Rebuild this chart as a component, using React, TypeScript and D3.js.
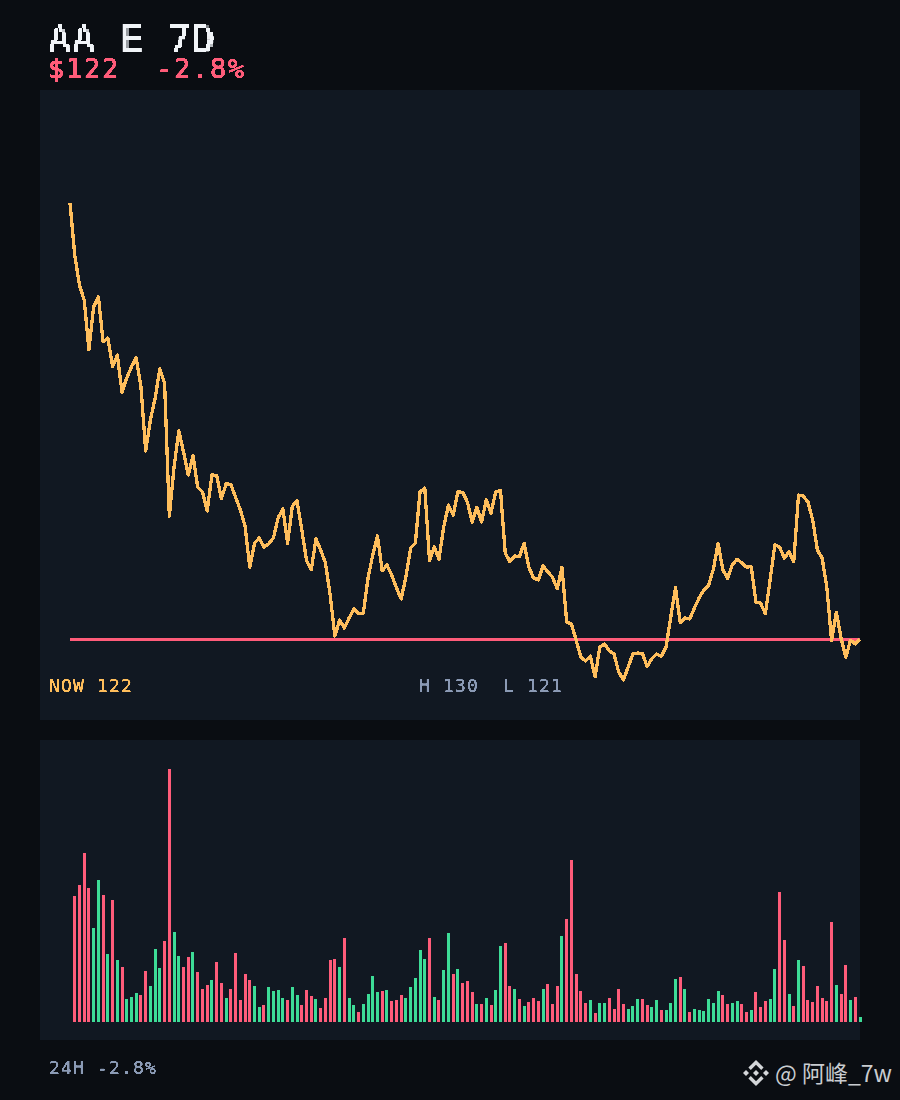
import React from "react";
import * as d3 from "d3";

const closes = [
  130.00,129.02,128.45,128.17,127.23,128.04,128.23,127.38,127.45,126.91,127.13,126.43,126.70,126.91,127.08,126.53,125.32,125.91,126.32,126.87,126.60,124.09,125.02,125.70,125.30,124.87,125.23,124.64,124.55,124.19,124.87,124.86,124.42,124.70,124.69,124.45,124.21,123.91,123.13,123.58,123.68,123.51,123.57,123.68,124.06,124.23,123.58,124.28,124.38,123.83,123.26,123.08,123.66,123.45,123.21,122.60,121.83,122.13,121.98,122.17,122.34,122.25,122.26,122.92,123.36,123.72,123.06,123.17,122.98,122.74,122.53,122.94,123.49,123.58,124.55,124.62,123.26,123.51,123.28,123.89,124.30,124.11,124.55,124.54,124.36,123.98,124.26,123.98,124.40,124.15,124.55,124.58,123.40,123.23,123.34,123.33,123.58,123.13,122.92,122.89,123.15,123.04,122.94,122.72,123.13,122.09,122.06,121.75,121.43,121.36,121.45,121.06,121.62,121.68,121.55,121.49,121.15,121.00,121.25,121.49,121.51,121.50,121.26,121.40,121.49,121.45,121.62,122.19,122.74,122.08,122.17,122.15,122.36,122.55,122.70,122.79,123.09,123.58,123.08,122.92,123.17,123.28,123.21,123.13,123.14,122.47,122.45,122.25,122.89,123.55,123.51,123.30,123.42,123.23,124.49,124.47,124.36,124.02,123.45,123.30,122.74,121.74,122.28,121.79,121.43,121.75,121.68,121.77,
];

const volumes = [
  126,137,169,134,94,142,127,68,122,62,55,23,25,29,27,51,36,73,54,81,253,90,66,55,65,70,50,33,37,42,60,39,24,33,69,22,48,42,36,15,
  17,35,31,32,24,22,35,27,17,32,26,23,14,24,62,63,55,84,24,17,10,18,28,46,30,31,32,21,22,27,24,35,44,72,63,84,25,22,52,89,48,53,
  39,41,30,18,18,24,17,32,76,79,36,33,23,16,20,24,21,33,38,18,36,86,103,162,48,31,19,22,9,19,19,24,13,33,18,13,16,23,23,17,15,22,
  12,12,19,43,45,33,10,13,12,11,23,19,31,27,18,19,21,18,10,12,30,15,21,23,53,130,82,28,16,62,56,22,20,36,24,21,100,37,28,57,22,25,5,
];

const titleText = "AA E 7D";
const priceText = "$122";
const changeText = "-2.8%";
const nowText = "NOW 122";
const highText = "H 130";
const lowText = "L 121";
const footerText = "24H -2.8%";
const watermarkText = "@ 阿峰_7w";

const BG = "#0a0d12";
const PANEL = "#111822";
const AMBER = "#ffbe5c";
const RED = "#ff5c7a";
const GREEN = "#3ddc97";
const WHITE = "#f1f4f8";
const GRAY = "#8b9ab5";
const MONO = "'DejaVu Sans Mono', monospace";

function Pixel({ id, block, ox, oy, sample, radius }: { id: string; block: number; ox: number; oy: number; sample: number; radius: number }) {
  return (
    <filter id={id} filterUnits="userSpaceOnUse" primitiveUnits="userSpaceOnUse" x={ox} y={oy} width={800} height={1000} colorInterpolationFilters="sRGB">
      <feFlood x={ox + 1} y={oy + 1} width={sample} height={sample} floodColor="#000" floodOpacity="1" />
      <feComposite x={ox} y={oy} width={block} height={block} />
      <feTile result="grid" />
      <feComposite in="SourceGraphic" in2="grid" operator="in" />
      <feMorphology operator="dilate" radius={radius} />
      <feComponentTransfer>
        <feFuncA type="linear" slope="6" intercept="-2.2" />
      </feComponentTransfer>
    </filter>
  );
}

const chevron = "M0 -13L7.6 -5.4L5.2 -3L0 -8.2L-5.2 -3L-7.6 -5.4Z";
const sideDiamonds = [-10, 10];
const diamond = (cx: number, r: number) => `M${cx} ${-r}L${cx + r} 0L${cx} ${r}L${cx - r} 0Z`;

export default function App() {
  const x = d3.scaleLinear().domain([0, closes.length - 1]).range([70, 860]);
  const y = d3.scaleLinear().domain([121, 130]).range([680, 203]);
  const vol = d3.scaleLinear().domain([0, d3.max(volumes) as number]).range([1022, 769]);
  const line = d3.line<number>().x((_, i) => x(i)).y((d) => y(d));
  const last = closes[closes.length - 1];

  const small = { fontSize: 18, letterSpacing: 1.16, strokeWidth: 0.2, filter: "url(#px2)" };
  const mid = { fontSize: 27, letterSpacing: 1.74, strokeWidth: 0.7, fill: RED, stroke: RED, filter: "url(#px2)" };

  return (
    <svg width={900} height={1100} viewBox="0 0 900 1100" style={{ position: "absolute", left: 0, top: 0, display: "block" }}>
      <defs>
        <Pixel id="px4" block={4} ox={2} oy={0} sample={2} radius={1} />
        <filter id="px2" filterUnits="userSpaceOnUse" x={0} y={0} width={900} height={1100}>
          <feComponentTransfer>
            <feFuncA type="linear" slope="5" intercept="-1.6" />
          </feComponentTransfer>
        </filter>
      </defs>
      <rect width={900} height={1100} fill={BG} />
      <rect x={40} y={90} width={820} height={630} fill={PANEL} />
      <rect x={40} y={740} width={820} height={300} fill={PANEL} />

      <g fontFamily={MONO}>
        <text x={48} y={52} fontSize={38} letterSpacing={1.12} fill={WHITE} filter="url(#px4)">{titleText}</text>
        <text x={48} y={78} {...mid}>{priceText}</text>
        <text x={156} y={78} {...mid}>{changeText}</text>
        <text x={49} y={692} fill={AMBER} stroke={AMBER} {...small}>{nowText}</text>
        <text x={419} y={692} fill={GRAY} stroke={GRAY} {...small}>{highText}</text>
        <text x={503} y={692} fill={GRAY} stroke={GRAY} {...small}>{lowText}</text>
        <text x={49} y={1074} fill={GRAY} stroke={GRAY} {...small}>{footerText}</text>
      </g>

      <line x1={x(0)} x2={x(closes.length - 1)} y1={y(last)} y2={y(last)} stroke={RED} strokeWidth={3} shapeRendering="crispEdges" />
      <path d={line(closes) ?? ""} fill="none" stroke={AMBER} strokeWidth={3.3} strokeLinejoin="round" shapeRendering="crispEdges" />

      {volumes.map((v, i) => (
        <rect
          key={i}
          x={x(i + 1) - 1.5}
          y={vol(v)}
          width={3}
          height={vol(0) - vol(v)}
          fill={closes[i + 1] >= closes[i] ? GREEN : RED}
          shapeRendering="crispEdges"
        />
      ))}

      <g fill="#d4d6d9" transform="translate(756 1073)">
        <path d={chevron} />
        <path d={chevron} transform="scale(1 -1)" />
        <path d={diamond(0, 3)} />
        {sideDiamonds.map((cx) => (
          <path key={cx} d={diamond(cx, 3)} />
        ))}
      </g>
      <text x={775} y={1082} fontSize={23} fontFamily="'Noto Sans CJK SC', 'Noto Sans', sans-serif" fill="#c9ccd0">{watermarkText}</text>
    </svg>
  );
}
